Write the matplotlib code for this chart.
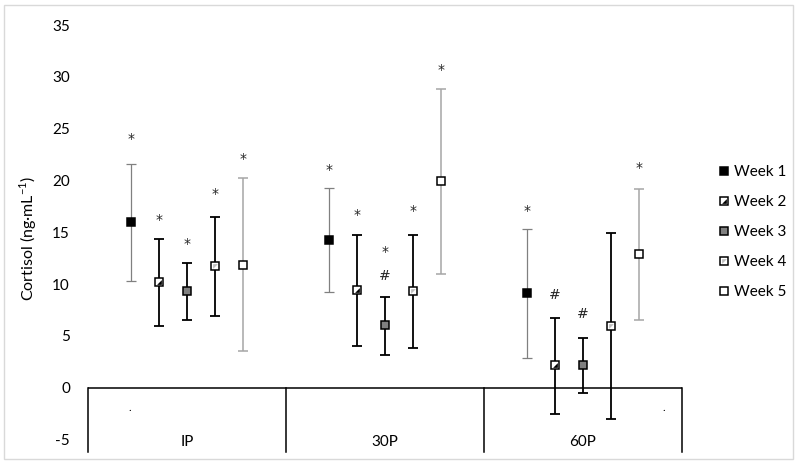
import numpy as np
import matplotlib.pyplot as plt
from matplotlib.path import Path
from matplotlib.patches import Rectangle

plt.rcParams['font.family'] = ['Lato', 'DejaVu Sans']
plt.rcParams['axes.unicode_minus'] = False

groups = ['IP', '30P', '60P']
weeks = ['Week 1', 'Week 2', 'Week 3', 'Week 4', 'Week 5']

# mean, top and bottom of the error bars, per week across groups
means = [[15.95, 14.25, 9.15],
         [10.2, 9.45, 2.15],
         [9.35, 6.05, 2.2],
         [11.75, 9.35, 6.0],
         [11.85, 19.95, 12.9]]
upper = [[21.6, 19.3, 15.3],
         [14.4, 14.75, 6.75],
         [12.05, 8.8, 4.8],
         [16.5, 14.75, 14.95],
         [20.2, 28.8, 19.2]]
lower = [[10.3, 9.25, 2.9],
         [6.0, 4.05, -2.5],
         [6.55, 3.2, -0.5],
         [6.9, 3.85, -3.0],
         [3.5, 11.0, 6.55]]

# significance marks: (week index, group index, symbol, y)
marks = [(0, 0, '*', 24.0), (1, 0, '*', 16.2), (2, 0, '*', 13.9), (3, 0, '*', 18.7), (4, 0, '*', 22.1),
         (0, 1, '*', 21.0), (1, 1, '*', 16.7), (2, 1, '*', 13.1), (2, 1, '#', 10.8), (3, 1, '*', 17.1),
         (4, 1, '*', 30.7),
         (0, 2, '*', 17.1), (1, 2, '#', 8.95), (2, 2, '#', 7.1), (4, 2, '*', 21.2)]

face = ['black', 'white', '#808080', 'white', 'white']
inner = [None, 'black', None, '#bfbfbf', None]
bar_col = ['#808080', 'black', 'black', 'black', '#a6a6a6']
bar_lw = [0.9, 1.3, 1.3, 1.3, 1.1]

tri_lr = Path([(1, -1), (1, 1), (-1, -1), (1, -1)], [1, 2, 2, 79])
tri_ul = Path([(-1, 1), (1, 1), (-1, -1), (-1, 1)], [1, 2, 2, 79])
tri_path = [None, tri_lr, None, tri_ul, None]

fig = plt.figure(figsize=(7.98, 4.66), dpi=100)
ax = fig.add_axes([88 / 798, 14 / 466, 594 / 798, 427 / 466])

x = np.arange(len(groups))
step = 0.1414
handles = []
for i in range(5):
    xs = x + (i - 2) * step
    m = np.array(means[i])
    yerr = [m - np.array(lower[i]), np.array(upper[i]) - m]
    ax.errorbar(xs, m, yerr=yerr, fmt='none', ecolor=bar_col[i], elinewidth=bar_lw[i],
                capsize=3.3, capthick=bar_lw[i], zorder=2)
    h, = ax.plot(xs, m, 's', ms=5.6, mfc=face[i], mec='black', mew=1.1, zorder=3)
    hh = h
    if inner[i] is not None:
        t, = ax.plot(xs, m, marker=tri_path[i], ls='none', ms=3.4, mfc=inner[i], mew=0, zorder=4)
        hh = (h, t)
    handles.append(hh)

for wi, gi, sym, yv in marks:
    ax.text(x[gi] + (wi - 2) * step, yv, sym, ha='center', va='center', fontsize=10,
            color='#262626', family='DejaVu Sans')

# category box below the plot
ax.axhline(0, color='black', lw=1.1, zorder=1)
for b in [-0.5, 0.5, 1.5, 2.5]:
    ax.plot([b, b], [-6.2, 0], color='black', lw=1.1, clip_on=False, zorder=1)
for g, lab in zip(x, groups):
    ax.text(g, -5.2, lab, ha='center', va='center', fontsize=11)
ax.text(-0.29, -2.4, '.', ha='center', va='bottom', fontsize=8)
ax.text(2.41, -2.4, '.', ha='center', va='bottom', fontsize=8)

ax.set_xlim(-0.5, 2.5)
ax.set_ylim(-6.2, 35)
ax.set_yticks(np.arange(-5, 36, 5))
ax.set_xticks([])
ax.tick_params(axis='y', length=0, pad=13, labelsize=11)
for s in ax.spines.values():
    s.set_visible(False)
ax.set_ylabel('Cortisol (ng·mL$^{\\mathregular{-1}}$)', fontsize=11.5)
ax.yaxis.set_label_coords(-0.082, 0.5)

leg = fig.legend(handles, weeks, loc='center left', bbox_to_anchor=(705 / 798, 1 - 232 / 466),
                 frameon=False, fontsize=11, handlelength=0.7, handletextpad=0.3, labelspacing=1.05)

fig.patches.append(Rectangle((4 / 798, 7 / 466), 789 / 798, 454 / 466, transform=fig.transFigure,
                             fill=False, edgecolor='#d9d9d9', lw=1))

fig.savefig('out.png', dpi=100)
